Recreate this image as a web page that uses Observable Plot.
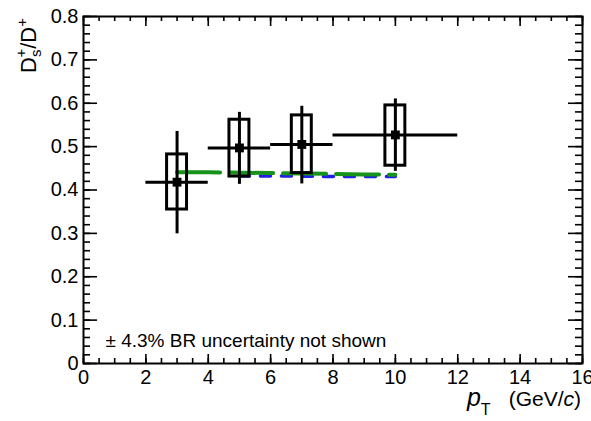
<!DOCTYPE html>
<html><head><meta charset="utf-8">
<script src="https://cdn.jsdelivr.net/npm/d3@7"></script>
<script src="https://cdn.jsdelivr.net/npm/@observablehq/plot@0.6"></script>
<style>body{margin:0;background:#fff} svg{display:block}</style>
</head><body><div id="chart"></div>
<script>
// Data points: D_s+/D+ ratio vs pT
const ptCenter = [3, 5, 7, 10];
const ptLow = [2, 4, 6, 8];
const ptHigh = [4, 6, 8, 12];
const ratio = [0.418, 0.497, 0.505, 0.527];
const statLow = [0.299, 0.413, 0.414, 0.443];
const statHigh = [0.535, 0.579, 0.593, 0.610];
const sysLow = [0.355, 0.431, 0.439, 0.456];
const sysHigh = [0.482, 0.562, 0.572, 0.595];
const sysHalfWidth = 0.32;
// Model curves
const greenX = [3, 4, 5, 6, 7, 8, 9, 10];
const greenY = [0.441, 0.441, 0.440, 0.439, 0.438, 0.437, 0.436, 0.435];
const blueX = [5, 6, 7, 8, 9, 10];
const blueY = [0.432, 0.432, 0.432, 0.431, 0.431, 0.431];
// Ticks
const xTicks = [0, 2, 4, 6, 8, 10, 12, 14, 16];
const xMinorTicks = d3.range(0, 16.001, 0.5);
const yTicks = [0, 0.1, 0.2, 0.3, 0.4, 0.5, 0.6, 0.7, 0.8];
const yMinorTicks = d3.range(0, 0.8001, 0.02);
const noteText = "± 4.3% BR uncertainty not shown";

const points = ptCenter.map((x, i) => ({
  x, xlo: ptLow[i], xhi: ptHigh[i], y: ratio[i],
  slo: statLow[i], shi: statHigh[i], ylo: sysLow[i], yhi: sysHigh[i]
}));
const green = greenX.map((x, i) => ({x, y: greenY[i]}));
const blue = blueX.map((x, i) => ({x, y: blueY[i]}));

const W = 591, H = 421;
const mL = 83, mR = 9, mT = 16, mB = 58;
const pw = W - mL - mR, ph = H - mT - mB;
const font = "Liberation Sans, Arial, Helvetica, sans-serif";

const chart = Plot.plot({
  width: W, height: H,
  marginLeft: mL, marginRight: mR, marginTop: mT, marginBottom: mB,
  style: {fontFamily: font, background: "#fff", overflow: "visible"},
  x: {domain: [0, 16]},
  y: {domain: [0, 0.8]},
  marks: [
    // model curves
    Plot.line(blue, {x: "x", y: "y", stroke: "#1f1fe8", strokeWidth: 3.5, strokeDasharray: "10,11"}),
    Plot.line(green, {x: "x", y: "y", stroke: "#17921a", strokeWidth: 4, strokeDasharray: "43,10"}),
    // systematic boxes
    Plot.rect(points, {x1: d => d.x - sysHalfWidth, x2: d => d.x + sysHalfWidth, y1: "ylo", y2: "yhi",
      fill: "none", stroke: "#000", strokeWidth: 3}),
    // stat error bars
    Plot.ruleX(points, {x: "x", y1: "slo", y2: "shi", stroke: "#000", strokeWidth: 3}),
    Plot.ruleY(points, {y: "y", x1: "xlo", x2: "xhi", stroke: "#000", strokeWidth: 3}),
    Plot.dot(points, {x: "x", y: "y", symbol: "square", r: 5, fill: "#000", stroke: "none"}),
    // inward ticks (ROOT style)
    Plot.ruleX(xTicks, {x: d => d, insetTop: ph - 9, stroke: "#000", strokeWidth: 1.6}),
    Plot.ruleX(xMinorTicks, {x: d => d, insetTop: ph - 5, stroke: "#000", strokeWidth: 1.6}),
    Plot.ruleX(xTicks, {x: d => d, insetBottom: ph - 10, stroke: "#000", strokeWidth: 1.6}),
    Plot.ruleX(xMinorTicks, {x: d => d, insetBottom: ph - 5, stroke: "#000", strokeWidth: 1.6}),
    Plot.ruleY(yTicks, {y: d => d, insetRight: pw - 14, stroke: "#000", strokeWidth: 1.6}),
    Plot.ruleY(yMinorTicks, {y: d => d, insetRight: pw - 7, stroke: "#000", strokeWidth: 1.6}),
    Plot.ruleY(yTicks, {y: d => d, insetLeft: pw - 14, stroke: "#000", strokeWidth: 1.6}),
    Plot.ruleY(yMinorTicks, {y: d => d, insetLeft: pw - 7, stroke: "#000", strokeWidth: 1.6}),
    Plot.frame({stroke: "#000", strokeWidth: 2}),
    Plot.axisX(xTicks, {tickSize: 0, tickPadding: 6, fontSize: 20, fill: "#000", label: null,
      tickFormat: d => String(d)}),
    Plot.axisY(yTicks, {tickSize: 0, tickPadding: 5, fontSize: 20, fill: "#000", label: null,
      tickFormat: d => d === 0 ? "0" : d.toFixed(1)}),
    Plot.text([noteText], {text: d => d, frameAnchor: "bottom-left", dx: 22, dy: -17,
      fontSize: 19, fill: "#000", textAnchor: "start", lineAnchor: "bottom"})
  ]
});

const svg = d3.select(chart);
// y axis title: D_s^+/D^+
const yt = svg.append("text")
  .attr("transform", `translate(36,${mT + 2}) rotate(-90)`)
  .attr("text-anchor", "end")
  .attr("font-family", font).attr("font-size", 22).attr("fill", "#000");
yt.append("tspan").text("D");
yt.append("tspan").attr("font-size", 15).attr("dy", 5).text("s");
yt.append("tspan").attr("font-size", 15).attr("dx", -8).attr("dy", -15).text("+");
yt.append("tspan").attr("dy", 10).text("/D");
yt.append("tspan").attr("font-size", 15).attr("dy", -9).text("+");

// x axis title: p_T (GeV/c)
const xt = svg.append("text")
  .attr("x", W - mR - 1).attr("y", H - 15)
  .attr("text-anchor", "end")
  .attr("font-family", font).attr("font-size", 21).attr("fill", "#000");
xt.append("tspan").attr("font-style", "italic").attr("font-size", 25).text("p");
xt.append("tspan").attr("font-size", 16).attr("dy", 9).text("T");
xt.append("tspan").attr("dy", -9).attr("dx", 18).text("(GeV/");
xt.append("tspan").attr("font-style", "italic").text("c");
xt.append("tspan").text(")");

document.getElementById("chart").append(chart);
</script>
</body></html>
